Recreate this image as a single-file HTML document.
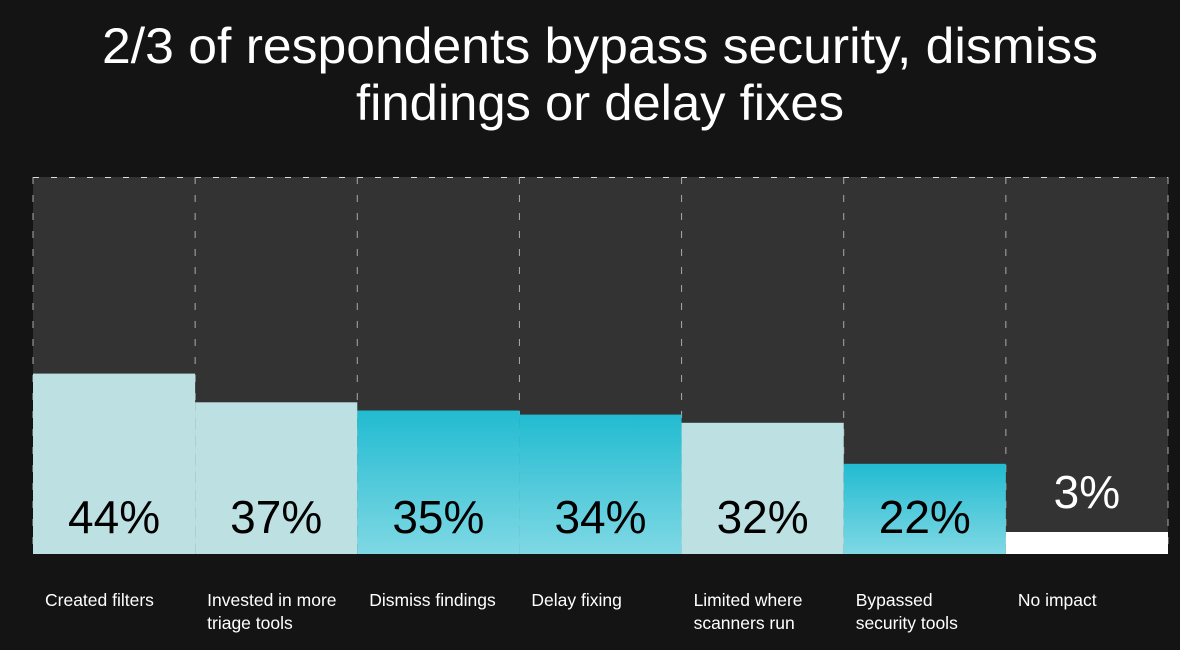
<!DOCTYPE html>
<html><head><meta charset="utf-8"><style>
html,body{margin:0;padding:0;background:#141414;width:1180px;height:650px;overflow:hidden}
</style></head><body>
<svg id="chart" width="1180" height="650" xmlns="http://www.w3.org/2000/svg" style="font-family:'Liberation Sans',sans-serif">
<defs><linearGradient id="teal" x1="0" y1="0" x2="0" y2="1"><stop offset="0" stop-color="#22bbd1"/><stop offset="1" stop-color="#7fd8e4"/></linearGradient></defs>
<rect width="1180" height="650" fill="#141414"/>
<text x="600" y="63" text-anchor="middle" fill="#fff" font-size="50" textLength="996" lengthAdjust="spacingAndGlyphs">2/3 of respondents bypass security, dismiss</text>
<text x="600" y="120" text-anchor="middle" fill="#fff" font-size="50" textLength="488" lengthAdjust="spacingAndGlyphs">findings or delay fixes</text>
<g id="g"></g>
</svg>
<script>
const categories = [["Created filters"],["Invested in more","triage tools"],["Dismiss findings"],["Delay fixing"],["Limited where","scanners run"],["Bypassed","security tools"],["No impact"]];
const values = [44,37,35,34,32,22,3];
const styles = ["light","light","teal","teal","light","teal","white"];
const X0=33, X1=1168, TOP=177, BOT=554;
const bw=(X1-X0)/categories.length;
function xs(i){return X0+i*bw;}
function hs(v){return Math.max(4.1*v,22);}
const ns="http://www.w3.org/2000/svg", g=document.getElementById('g');
function mk(t,a){const e=document.createElementNS(ns,t);for(const k in a)e.setAttribute(k,a[k]);g.appendChild(e);return e;}
const panel=mk('rect',{x:X0,y:TOP,width:X1-X0,height:BOT-TOP,fill:'#333'});


const topLine=mk('line',{x1:X0,y1:TOP+0.5,x2:X1,y2:TOP+0.5,stroke:'#ddd','stroke-dasharray':'6 12'});


for(let i=0;i<=categories.length;i++){
  const l=mk('line',{x1:xs(i),y1:TOP,x2:xs(i),y2:BOT,stroke:'#aaa','stroke-dasharray':'7 11'});
  
  
}
values.forEach((v,i)=>{
  const h=hs(v), fill=styles[i]=="light"?"#bde1e2":styles[i]=="teal"?"url(#teal)":"#fff";
  const r=mk('rect',{x:xs(i),y:BOT-h,width:bw,height:h,fill:fill});
  
  
  const inside=h>60;
  const t=mk('text',{x:xs(i)+bw/2,y:inside?533:BOT-h-24,'text-anchor':'middle','font-size':46,fill:inside?'#000':'#fff'});
  t.textContent=v+'%';
  
  
  categories[i].forEach((line,k)=>{
    const c=mk('text',{x:xs(i)+12,y:606+k*23,'font-size':17.5,fill:'#fff'});
    c.textContent=line;
    
    
  });
});
</script>
</body></html>
